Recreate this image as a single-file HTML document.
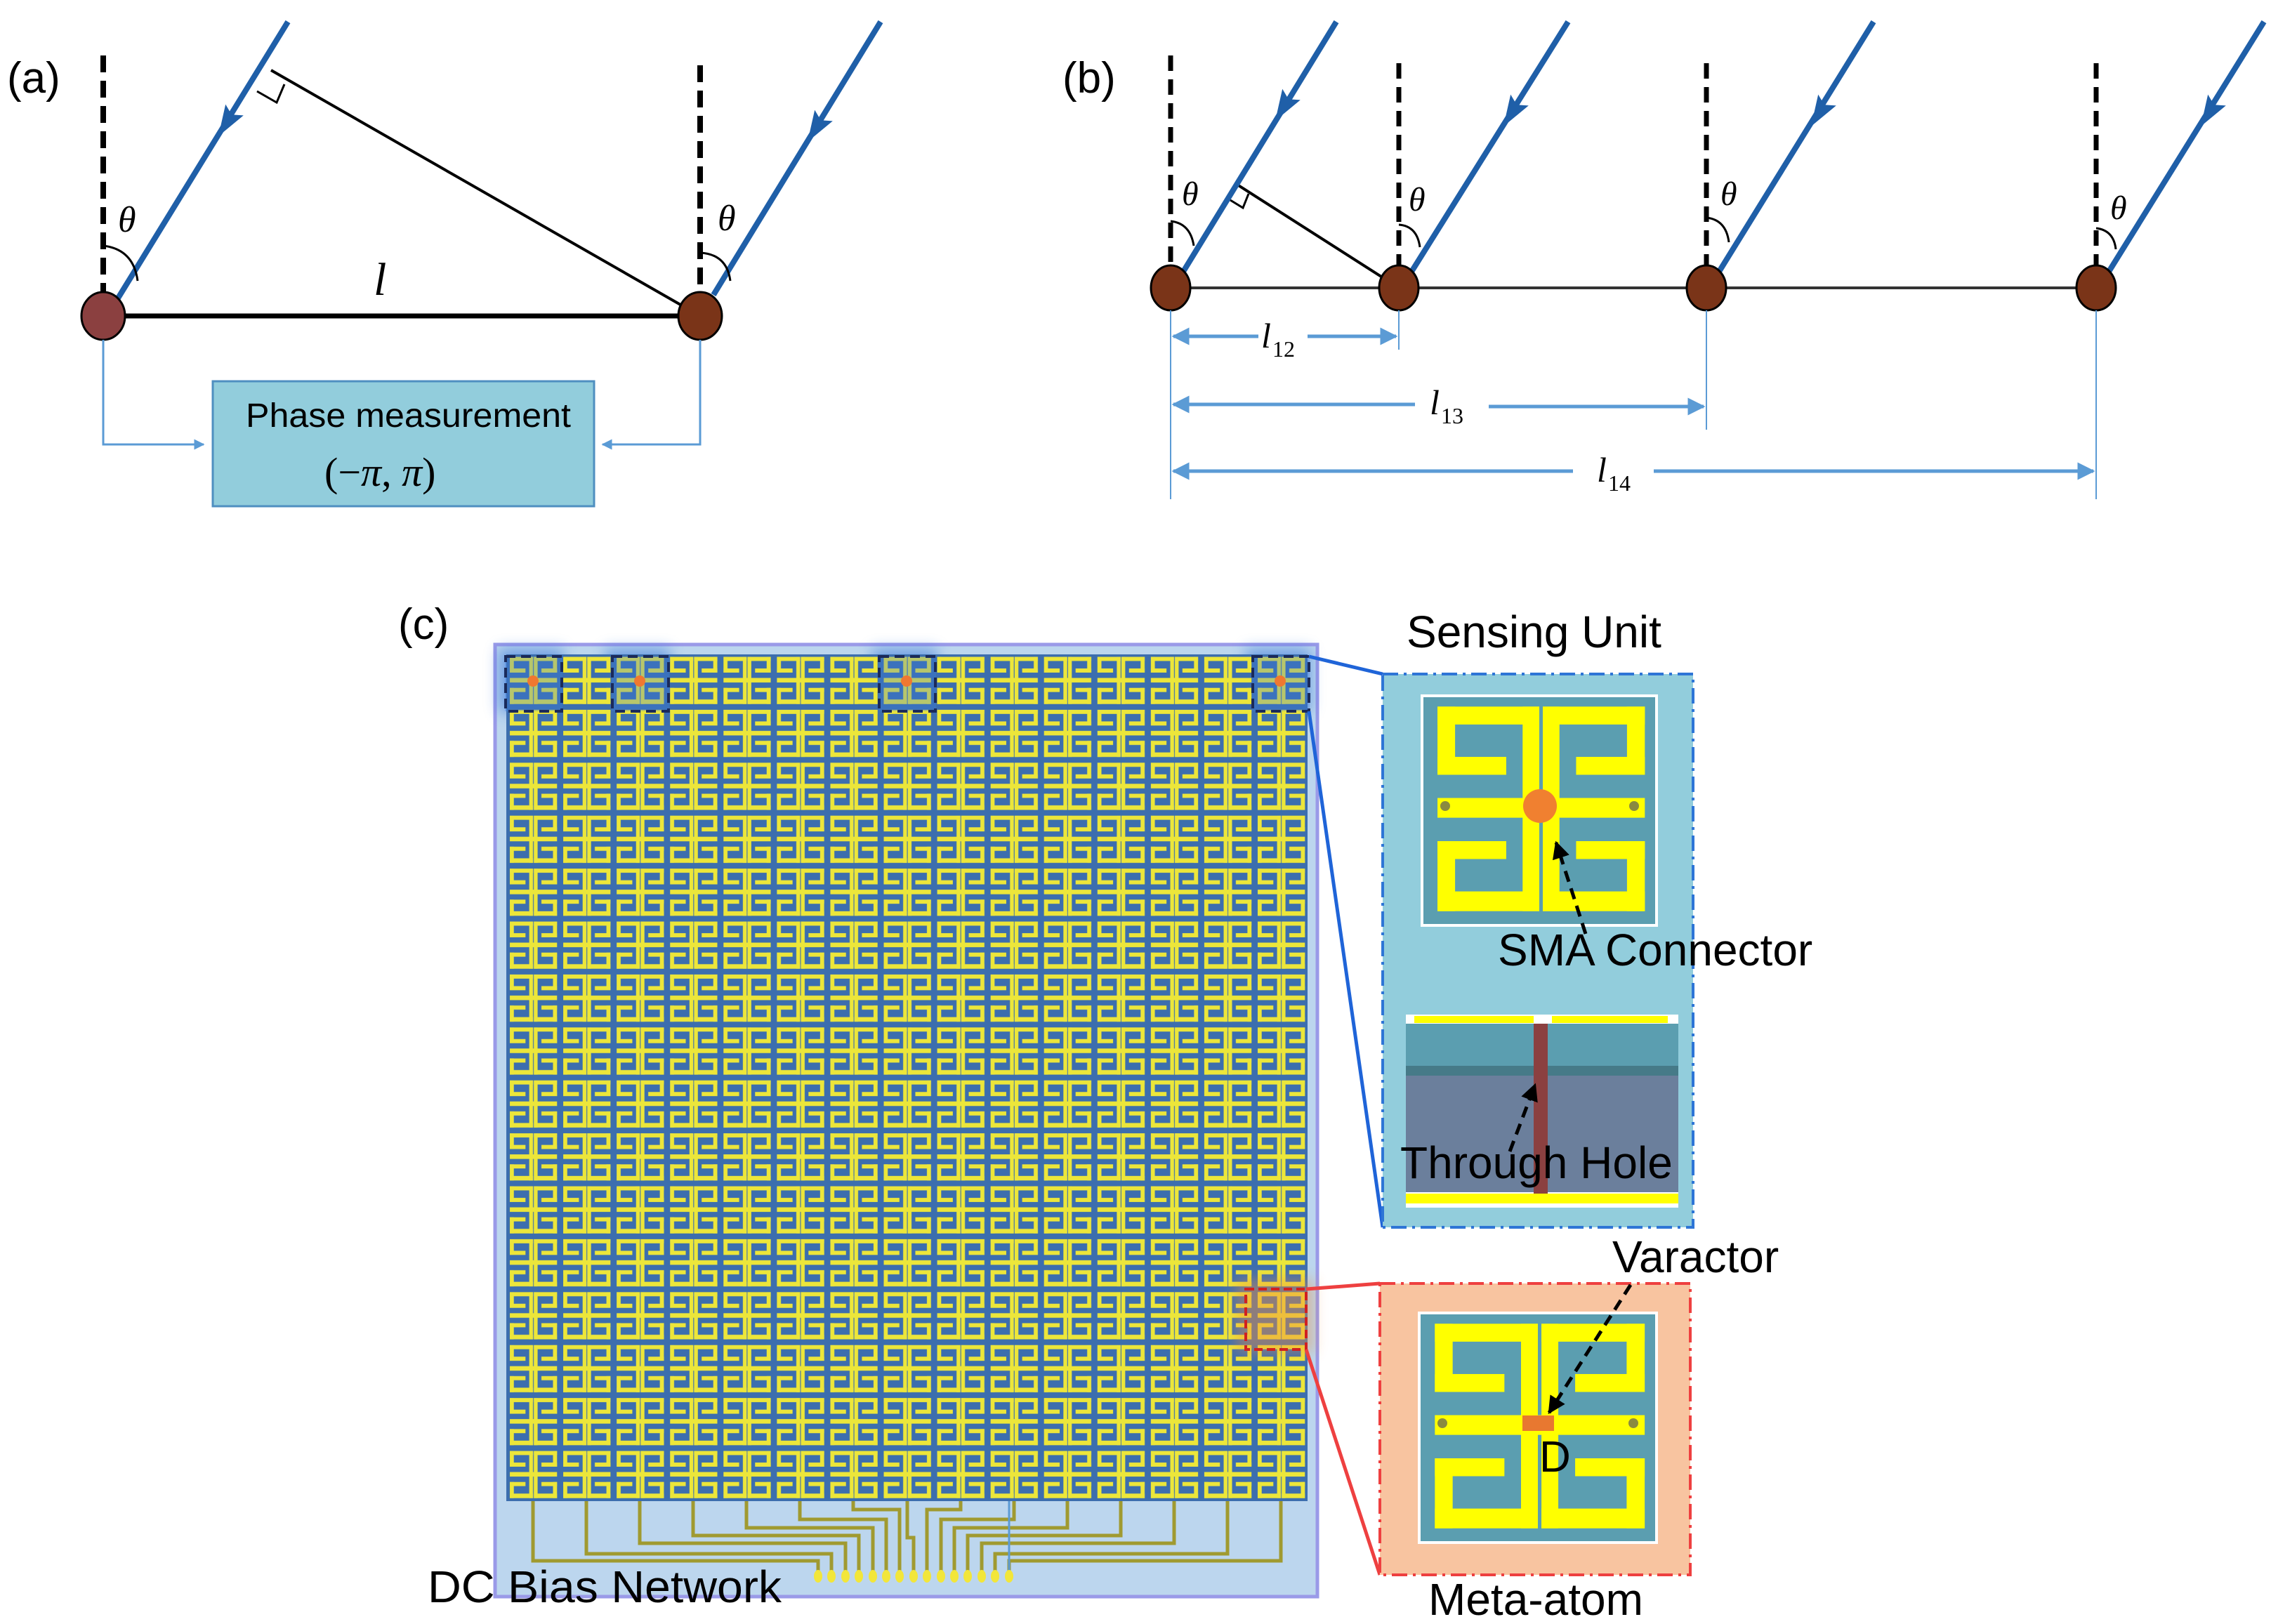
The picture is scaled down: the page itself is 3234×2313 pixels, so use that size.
<!DOCTYPE html>
<html><head><meta charset="utf-8"><style>
html,body{margin:0;padding:0;background:#fff}
svg{display:block}
</style></head><body>
<svg width="3234" height="2313" viewBox="0 0 3234 2313" xmlns="http://www.w3.org/2000/svg">
<defs>
<g id="ys">
<rect x="6.6" y="4.7" width="43.4" height="7.8"/>
<rect x="6.6" y="4.7" width="7.5" height="29.7"/>
<rect x="6.6" y="26.6" width="29.3" height="7.8"/>
<rect x="42.9" y="4.7" width="7.1" height="89.1"/>
<rect x="51.5" y="4.7" width="7.1" height="89.1"/>
<rect x="51.5" y="4.7" width="43.5" height="7.8"/>
<rect x="87.4" y="4.7" width="7.6" height="29.7"/>
<rect x="65.7" y="26.6" width="29.3" height="7.8"/>
<rect x="6.6" y="44.5" width="88.4" height="8.6"/>
<rect x="6.6" y="63.3" width="29.3" height="7.8"/>
<rect x="6.6" y="63.3" width="7.5" height="30.5"/>
<rect x="6.6" y="85.2" width="43.4" height="8.6"/>
<rect x="65.7" y="63.3" width="29.3" height="7.8"/>
<rect x="87.4" y="63.3" width="7.6" height="30.5"/>
<rect x="51.5" y="85.2" width="43.5" height="8.6"/>
</g>
<path id="bah" d="M0,0 L-44,-15 L-36,0 L-44,15 z"/>
<pattern id="arr" patternUnits="userSpaceOnUse" x="721" y="932" width="76.07" height="75.4">
<rect width="76.07" height="75.4" fill="#3c6eae"/>
<g transform="scale(0.7607,0.754)" fill="#ece63a"><use href="#ys"/></g>
</pattern>
<filter id="blur" x="-50%" y="-50%" width="200%" height="200%"><feGaussianBlur stdDeviation="10"/></filter>
<marker id="ab" viewBox="0 0 10 10" refX="9" refY="5" markerWidth="5" markerHeight="5" orient="auto-start-reverse"><path d="M0,0 L10,5 L0,10 z" fill="#5b9bd5"/></marker>
<marker id="ak" viewBox="0 0 10 10" refX="9" refY="5" markerWidth="5" markerHeight="5" orient="auto"><path d="M0,0 L10,5 L0,10 z" fill="#000"/></marker>
</defs>

<text x="10" y="132" font-family="Liberation Sans, sans-serif" font-size="62">(a)</text>
<line x1="147" y1="79" x2="147" y2="420" stroke="#000" stroke-width="8" stroke-dasharray="24 12"/>
<line x1="997" y1="93" x2="997" y2="420" stroke="#000" stroke-width="8" stroke-dasharray="24 12"/>
<line x1="386" y1="100" x2="997" y2="450" stroke="#000" stroke-width="4"/>
<path d="M366,130 L394,146 L405,120" fill="none" stroke="#000" stroke-width="3"/>
<line x1="147" y1="450" x2="997" y2="450" stroke="#000" stroke-width="7"/>
<line x1="166" y1="428" x2="410" y2="31" stroke="#1f5fa8" stroke-width="8"/>
<line x1="1016" y1="420" x2="1254" y2="31" stroke="#1f5fa8" stroke-width="8"/>
<g fill="#1f5fa8">
<use href="#bah" transform="translate(311,194) rotate(121.5)"/>
<use href="#bah" transform="translate(1150,202) rotate(121.5)"/>
</g>
<path d="M147,350 Q190,355 196,400" fill="none" stroke="#000" stroke-width="3"/>
<path d="M997,360 Q1035,362 1040,400" fill="none" stroke="#000" stroke-width="3"/>
<text x="168" y="330" font-family="Liberation Serif, serif" font-style="italic" font-size="52">θ</text>
<text x="1022" y="328" font-family="Liberation Serif, serif" font-style="italic" font-size="52">θ</text>
<text x="532" y="420" font-family="Liberation Serif, serif" font-style="italic" font-size="66">l</text>
<ellipse cx="147" cy="450" rx="31" ry="34" fill="#8b4040" stroke="#000" stroke-width="3"/>
<ellipse cx="997" cy="450" rx="31" ry="34" fill="#7a3418" stroke="#000" stroke-width="3"/>
<path d="M147,484 V633 H290" fill="none" stroke="#5b9bd5" stroke-width="3" marker-end="url(#ab)"/>
<path d="M997,484 V633 H858" fill="none" stroke="#5b9bd5" stroke-width="3" marker-end="url(#ab)"/>
<rect x="303" y="543" width="543" height="178" fill="#92cddc" stroke="#4f8fc0" stroke-width="3"/>
<text x="350" y="608" font-family="Liberation Sans, sans-serif" font-size="48" textLength="463" lengthAdjust="spacingAndGlyphs">Phase measurement</text>
<text x="462" y="692" font-family="Liberation Serif, serif" font-size="58"><tspan>(−</tspan><tspan font-style="italic">π</tspan><tspan>, </tspan><tspan font-style="italic">π</tspan><tspan>)</tspan></text>

<text x="1513" y="132" font-family="Liberation Sans, sans-serif" font-size="62">(b)</text>
<g stroke="#000" stroke-width="7" stroke-dasharray="22 12">
<line x1="1667" y1="79" x2="1667" y2="380"/>
<line x1="1992" y1="90" x2="1992" y2="380"/>
<line x1="2430" y1="90" x2="2430" y2="380"/>
<line x1="2985" y1="90" x2="2985" y2="380"/>
</g>
<line x1="1667" y1="410" x2="2985" y2="410" stroke="#333" stroke-width="4"/>
<line x1="1762" y1="263" x2="1992" y2="410" stroke="#000" stroke-width="4"/>
<path d="M1752,285 L1770,296 L1778,276" fill="none" stroke="#000" stroke-width="3"/>
<g stroke="#1f5fa8" stroke-width="8">
<line x1="1680" y1="395" x2="1903" y2="31"/>
<line x1="2005" y1="395" x2="2233" y2="31"/>
<line x1="2443" y1="395" x2="2668" y2="31"/>
<line x1="2998" y1="395" x2="3224" y2="31"/>
</g>
<g fill="#1f5fa8">
<use href="#bah" transform="translate(1816,172) rotate(121.5)"/>
<use href="#bah" transform="translate(2141,180) rotate(121.5)"/>
<use href="#bah" transform="translate(2579,180) rotate(121.5)"/>
<use href="#bah" transform="translate(3134,180) rotate(121.5)"/>
</g>
<g fill="none" stroke="#000" stroke-width="3">
<path d="M1667,315 Q1695,318 1700,350"/>
<path d="M1992,320 Q2018,322 2022,352"/>
<path d="M2430,310 Q2458,313 2462,345"/>
<path d="M2985,325 Q3010,328 3013,355"/>
</g>
<g font-family="Liberation Serif, serif" font-style="italic" font-size="48">
<text x="1683" y="292">θ</text>
<text x="2006" y="300">θ</text>
<text x="2450" y="292">θ</text>
<text x="3005" y="312">θ</text>
</g>
<g fill="#7a3418" stroke="#000" stroke-width="3">
<ellipse cx="1667" cy="410" rx="28" ry="32"/>
<ellipse cx="1992" cy="410" rx="28" ry="32"/>
<ellipse cx="2430" cy="410" rx="28" ry="32"/>
<ellipse cx="2985" cy="410" rx="28" ry="32"/>
</g>
<g stroke="#5b9bd5" stroke-width="2">
<line x1="1667" y1="442" x2="1667" y2="711"/>
<line x1="1992" y1="442" x2="1992" y2="498"/>
<line x1="2430" y1="442" x2="2430" y2="612"/>
<line x1="2985" y1="442" x2="2985" y2="711"/>
</g>
<g stroke="#5b9bd5" stroke-width="5" fill="none">
<line x1="1792" y1="479" x2="1671" y2="479" marker-end="url(#ab)"/>
<line x1="1862" y1="479" x2="1988" y2="479" marker-end="url(#ab)"/>
<line x1="2015" y1="576" x2="1671" y2="576" marker-end="url(#ab)"/>
<line x1="2120" y1="579" x2="2426" y2="579" marker-end="url(#ab)"/>
<line x1="2240" y1="671" x2="1671" y2="671" marker-end="url(#ab)"/>
<line x1="2355" y1="671" x2="2981" y2="671" marker-end="url(#ab)"/>
</g>
<g font-family="Liberation Serif, serif" font-size="50">
<text x="1796" y="495" font-style="italic">l</text><text x="1812" y="508" font-size="32">12</text>
<text x="2036" y="590" font-style="italic">l</text><text x="2052" y="603" font-size="32">13</text>
<text x="2274" y="686" font-style="italic">l</text><text x="2290" y="699" font-size="32">14</text>
</g>

<text x="567" y="910" font-family="Liberation Sans, sans-serif" font-size="62">(c)</text>
<rect x="705" y="918" width="1171" height="1356" fill="#bcd6ee" stroke="#9a9ae8" stroke-width="5"/>
<g fill="#2f6fd8" opacity="0.55" filter="url(#blur)">
<rect x="710" y="924" width="92" height="90"/>
<rect x="862" y="924" width="92" height="90"/>
<rect x="1242" y="924" width="92" height="90"/>
<rect x="1774" y="924" width="92" height="90"/>
</g>
<rect x="721" y="932" width="1141" height="1206" fill="url(#arr)"/>
<g fill="#3a7fe0" opacity="0.3">
<rect x="719" y="935" width="82" height="78"/>
<rect x="871" y="935" width="82" height="78"/>
<rect x="1251" y="935" width="82" height="78"/>
<rect x="1783" y="935" width="82" height="78"/>
</g>
<rect x="1760" y="1822" width="110" height="105" fill="#f09040" opacity="0.45" filter="url(#blur)"/>
<g fill="none" stroke="#1a2a5a" stroke-width="4" stroke-dasharray="14 8">
<rect x="720" y="935" width="80" height="78"/>
<rect x="872" y="935" width="80" height="78"/>
<rect x="1252" y="935" width="80" height="78"/>
<rect x="1784" y="935" width="80" height="78"/>
</g>
<rect x="1774" y="1836" width="86" height="86" fill="none" stroke="#d02020" stroke-width="4" stroke-dasharray="12 6"/>
<g fill="#f07830">
<circle cx="759" cy="970" r="8"/><circle cx="911" cy="970" r="8"/><circle cx="1291" cy="970" r="8"/><circle cx="1823" cy="970" r="8"/>
</g>

<g fill="none" stroke="#a09a30" stroke-width="5">
<path d="M759,2138 V2223 H1165 V2243"/>
<path d="M835,2138 V2213 H1184 V2243"/>
<path d="M911,2138 V2198 H1204 V2243"/>
<path d="M987,2138 V2187 H1223 V2243"/>
<path d="M1063,2138 V2176 H1243 V2243"/>
<path d="M1139,2138 V2164 H1262 V2243"/>
<path d="M1215,2138 V2150 H1281 V2243"/>
<path d="M1292,2138 V2190 H1301 V2243"/>
<path d="M1368,2138 V2150 H1320 V2243"/>
<path d="M1444,2138 V2164 H1340 V2243"/>
<path d="M1520,2138 V2176 H1359 V2243"/>
<path d="M1596,2138 V2187 H1378 V2243"/>
<path d="M1672,2138 V2198 H1398 V2243"/>
<path d="M1748,2138 V2213 H1417 V2243"/>
<path d="M1824,2138 V2223 H1437 V2243"/>
</g>
<line x1="1437" y1="2138" x2="1437" y2="2243" stroke="#5b9bd5" stroke-width="3"/>
<g fill="#f2e63a">
<ellipse cx="1165" cy="2245" rx="6" ry="9"/><ellipse cx="1184" cy="2245" rx="6" ry="9"/><ellipse cx="1204" cy="2245" rx="6" ry="9"/><ellipse cx="1223" cy="2245" rx="6" ry="9"/><ellipse cx="1243" cy="2245" rx="6" ry="9"/><ellipse cx="1262" cy="2245" rx="6" ry="9"/><ellipse cx="1281" cy="2245" rx="6" ry="9"/><ellipse cx="1301" cy="2245" rx="6" ry="9"/><ellipse cx="1320" cy="2245" rx="6" ry="9"/><ellipse cx="1340" cy="2245" rx="6" ry="9"/><ellipse cx="1359" cy="2245" rx="6" ry="9"/><ellipse cx="1378" cy="2245" rx="6" ry="9"/><ellipse cx="1398" cy="2245" rx="6" ry="9"/><ellipse cx="1417" cy="2245" rx="6" ry="9"/><ellipse cx="1437" cy="2245" rx="6" ry="9"/>
</g>
<text x="609" y="2282" font-family="Liberation Sans, sans-serif" font-size="64" textLength="504" lengthAdjust="spacingAndGlyphs">DC Bias Network</text>

<line x1="1864" y1="935" x2="1969" y2="960" stroke="#1f64d8" stroke-width="5"/>
<line x1="1864" y1="1013" x2="1969" y2="1748" stroke="#1f64d8" stroke-width="5"/>
<line x1="1860" y1="1836" x2="1965" y2="1828" stroke="#ee4040" stroke-width="5"/>
<line x1="1860" y1="1922" x2="1965" y2="2243" stroke="#ee4040" stroke-width="5"/>

<text x="2003" y="922" font-family="Liberation Sans, sans-serif" font-size="64">Sensing Unit</text>
<rect x="1969" y="960" width="442" height="788" fill="#92cddc" stroke="#2e75d6" stroke-width="4" stroke-dasharray="22 8 4 8"/>
<rect x="2025" y="991" width="334" height="327" fill="#5b9eb0" stroke="#fff" stroke-width="4"/>
<g transform="translate(2025,991) scale(3.34,3.27)" fill="#ffff00"><use href="#ys"/></g>
<circle cx="2058" cy="1148" r="7" fill="#8a8a40"/><circle cx="2327" cy="1148" r="7" fill="#8a8a40"/>
<circle cx="2193" cy="1148" r="24" fill="#f08030"/>
<rect x="2002" y="1445" width="388" height="275" fill="#fff"/>
<rect x="2014" y="1447" width="170" height="10" fill="#ffff00"/>
<rect x="2210" y="1447" width="165" height="10" fill="#ffff00"/>
<rect x="2002" y="1458" width="388" height="60" fill="#5b9eb0"/>
<rect x="2002" y="1518" width="388" height="14" fill="#467a88"/>
<rect x="2002" y="1532" width="388" height="166" fill="#6b7f9c"/>
<rect x="2002" y="1700" width="388" height="14" fill="#ffff00"/>
<rect x="2184" y="1458" width="20" height="242" fill="#8b4040"/>
<line x1="2258" y1="1330" x2="2216" y2="1200" stroke="#000" stroke-width="5" stroke-dasharray="16 10" marker-end="url(#ak)"/>
<line x1="2150" y1="1640" x2="2186" y2="1545" stroke="#000" stroke-width="5" stroke-dasharray="16 10" marker-end="url(#ak)"/>
<text x="2133" y="1375" font-family="Liberation Sans, sans-serif" font-size="64">SMA Connector</text>
<text x="1994" y="1678" font-family="Liberation Sans, sans-serif" font-size="64">Through Hole</text>

<text x="2296" y="1812" font-family="Liberation Sans, sans-serif" font-size="64">Varactor</text>
<rect x="1965" y="1828" width="442" height="415" fill="#f8c4a0" stroke="#ee4040" stroke-width="4" stroke-dasharray="22 8 4 8"/>
<rect x="2021" y="1870" width="338" height="327" fill="#5b9eb0" stroke="#fff" stroke-width="4"/>
<g transform="translate(2021,1870) scale(3.38,3.27)" fill="#ffff00"><use href="#ys"/></g>
<circle cx="2054" cy="2027" r="7" fill="#8a8a40"/><circle cx="2326" cy="2027" r="7" fill="#8a8a40"/>
<rect x="2168" y="2016" width="45" height="22" fill="#e87830"/>
<line x1="2322" y1="1830" x2="2206" y2="2012" stroke="#000" stroke-width="5" stroke-dasharray="16 10" marker-end="url(#ak)"/>
<text x="2192" y="2096" font-family="Liberation Sans, sans-serif" font-size="62">D</text>
<text x="2034" y="2300" font-family="Liberation Sans, sans-serif" font-size="64">Meta-atom</text>
</svg>
</body></html>
